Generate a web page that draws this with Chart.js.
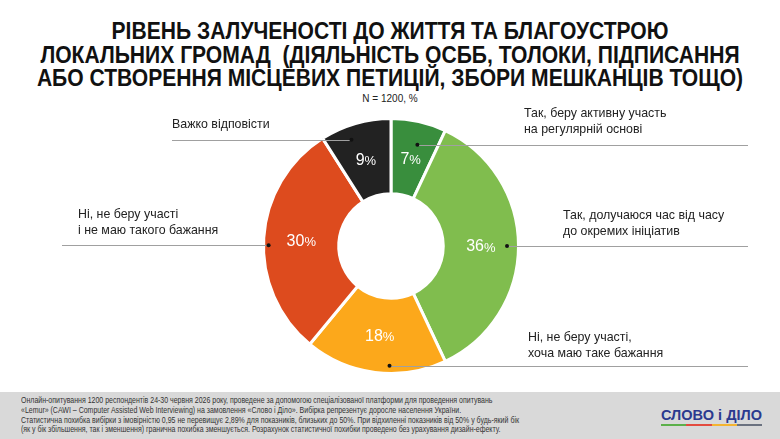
<!DOCTYPE html>
<html>
<head>
<meta charset="utf-8">
<script src="https://cdn.jsdelivr.net/npm/chart.js@4/dist/chart.umd.min.js"></script>
<style>
  html, body { margin: 0; padding: 0; background: #fff; }
  #wrap { position: relative; width: 780px; height: 439px; overflow: hidden; font-family: "Liberation Sans", Arial, sans-serif; }
  #title { position: absolute; left: -110px; top: 19px; width: 1000px; text-align: center; white-space: nowrap;
    font-weight: bold; font-size: 24.5px; line-height: 23.5px; color: #111;
    transform: scaleX(0.86); transform-origin: 500px 0; }
  #sub { position: absolute; left: 0; top: 93px; width: 780px; text-align: center; font-size: 10px; color: #222; }
  #footer { position: absolute; left: 0; top: 392px; width: 780px; height: 47px; background: #d9d9d9; }
  #note { position: absolute; left: 21px; top: 4px; font-size: 8.6px; line-height: 9.8px; color: #333; white-space: nowrap;
    transform-origin: 0 0; }
  #logo { position: absolute; left: 661px; top: 15px; font-weight: bold; font-size: 15.5px; line-height: 15px;
    color: #2b3a8f; white-space: nowrap; transform-origin: 0 0; }
  #stripes { position: absolute; left: 661px; top: 32px; width: 101px; height: 2px; display: flex; }
  #stripes span { flex: 1; }
  canvas { position: absolute; left: 0; top: 0; }
</style>
</head>
<body>
<div id="wrap">
  <div id="title">РІВЕНЬ ЗАЛУЧЕНОСТІ ДО ЖИТТЯ ТА БЛАГОУСТРОЮ<br>ЛОКАЛЬНИХ ГРОМАД&nbsp; (ДІЯЛЬНІСТЬ ОСББ, ТОЛОКИ, ПІДПИСАННЯ<br>АБО СТВОРЕННЯ МІСЦЕВИХ ПЕТИЦІЙ, ЗБОРИ МЕШКАНЦІВ ТОЩО)</div>
  <div id="sub">N = 1200, %</div>
  <canvas id="myChart" width="780" height="439"></canvas>
  <div id="footer">
    <div id="note">Онлайн-опитування 1200 респондентів 24-30 червня 2026 року, проведене за допомогою спеціалізованої платформи для проведення опитувань<br>«Lemur» (CAWI – Computer Assisted Web Interviewing) на замовлення «Слово і Діло». Вибірка репрезентує доросле населення України.<br>Статистична похибка вибірки з імовірністю 0,95 не перевищує 2,89% для показників, близьких до 50%. При відхиленні показників від 50% у будь-який бік<br>(як у бік збільшення, так і зменшення) гранична похибка зменшується. Розрахунок статистичної похибки проведено без урахування дизайн-ефекту.</div>
    <div id="logo">СЛОВО і ДІЛО</div>
    <div id="stripes"><span style="background:#5cb04a"></span><span style="background:#e34b3f"></span><span style="background:#f4b431"></span><span style="background:#6b7280"></span></div>
  </div>
</div>
<script>
const categories = [
  ['Так, беру активну участь', 'на регулярній основі'],
  ['Так, долучаюся час від часу', 'до окремих ініціатив'],
  ['Ні, не беру участі,', 'хоча маю таке бажання'],
  ['Ні, не беру участі', 'і не маю такого бажання'],
  ['Важко відповісти']
];
const values = [7, 36, 18, 30, 9];
const colors = ['#398e3d', '#80bd4e', '#fca81b', '#dd4b1e', '#222222'];

// callout styling: where along the slice the dot sits, where the line ends, where the text goes
const callouts = [
  { along: 0.58, rad: 0.82, end: 748, tx: 524, ty: 114 },
  { along: 0.50, rad: 0.91, end: 748, tx: 563, ty: 216 },
  { along: 0.40, rad: 0.94, end: 748, tx: 528, ty: 338 },
  { along: 0.47, rad: 0.96, end: 62,  tx: 78,  ty: 215 },
  { along: 0.37, rad: 0.89, end: 172, tx: 172, ty: 125 }
];

const FONT = '"Liberation Sans", Arial, sans-serif';

// squeeze logo and footer note to their widths in the reference
function fitWidth(id, w) {
  const el = document.getElementById(id);
  el.style.transform = 'scaleX(' + (w / el.getBoundingClientRect().width) + ')';
}
fitWidth('logo', 101);
fitWidth('note', 498);

const labelsPlugin = {
  id: 'labels',
  afterDatasetsDraw(chart) {
    const ctx = chart.ctx;
    const meta = chart.getDatasetMeta(0);
    meta.data.forEach((arc, i) => {
      const p = arc.getProps(['x', 'y', 'startAngle', 'endAngle', 'innerRadius', 'outerRadius']);
      const mid = (p.startAngle + p.endAngle) / 2;
      const c = callouts[i];
      ctx.save();

      // percent label in the middle of the ring
      const r = (p.innerRadius + p.outerRadius) / 2;
      const lx = p.x + Math.cos(mid) * r;
      const ly = p.y + Math.sin(mid) * r + 1;
      ctx.fillStyle = '#fff';
      ctx.textBaseline = 'middle';
      ctx.textAlign = 'left';
      const num = String(values[i]);
      ctx.font = '16px ' + FONT;
      const wNum = ctx.measureText(num).width;
      ctx.font = '13px ' + FONT;
      const wPct = ctx.measureText('%').width;
      const sx = lx - (wNum + wPct) / 2;
      ctx.font = '16px ' + FONT;
      ctx.fillText(num, sx, ly);
      ctx.font = '13px ' + FONT;
      ctx.fillText('%', sx + wNum, ly + 1);

      // leader line with dot
      const a = p.startAngle + (p.endAngle - p.startAngle) * c.along;
      const dr = p.outerRadius * c.rad;
      const dx = p.x + Math.cos(a) * dr;
      const dy = p.y + Math.sin(a) * dr;
      ctx.strokeStyle = '#a0a0a0';
      ctx.lineWidth = 1;
      ctx.beginPath();
      ctx.moveTo(dx, Math.round(dy) + 0.5);
      ctx.lineTo(c.end, Math.round(dy) + 0.5);
      ctx.stroke();
      ctx.fillStyle = '#111';
      ctx.beginPath();
      ctx.arc(dx, dy, 2, 0, Math.PI * 2);
      ctx.fill();

      // category text
      ctx.fillStyle = '#222';
      ctx.font = '12.4px ' + FONT;
      ctx.textBaseline = 'middle';
      categories[i].forEach((line, k) => ctx.fillText(line, c.tx, c.ty + k * 16));
      ctx.restore();
    });
  }
};

new Chart(document.getElementById('myChart'), {
  type: 'doughnut',
  data: {
    labels: categories.map(c => c.join(' ')),
    datasets: [{
      data: values,
      backgroundColor: colors,
      borderColor: '#ffffff',
      borderWidth: 3
    }]
  },
  options: {
    responsive: false,
    animation: false,
    cutout: '41%',
    layout: { padding: { top: 117, bottom: 64, left: 2, right: 0 } },
    plugins: { legend: { display: false }, tooltip: { enabled: false } }
  },
  plugins: [labelsPlugin]
});
</script>
</body>
</html>
